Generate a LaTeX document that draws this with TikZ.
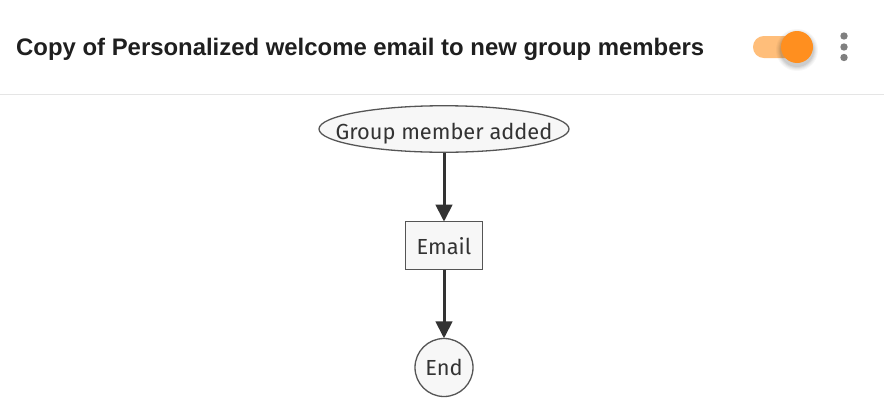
\documentclass[tikz,border=0pt]{standalone}
\usepackage{fontspec}
\setmainfont{Fira Sans}
\newfontfamily\titlefont[BoldFont={Liberation Sans Bold}]{Liberation Sans}
\usetikzlibrary{shapes.geometric,arrows.meta}
\definecolor{ink}{HTML}{333333}
\definecolor{edgeg}{HTML}{555555}
\definecolor{fillg}{HTML}{F7F7F7}
\definecolor{orangeK}{HTML}{FF8F1F}
\definecolor{orangeT}{HTML}{FFBE7A}
\definecolor{dotg}{HTML}{808080}
\newcommand{\lowered}[2]{\makebox[0pt]{\smash{\raisebox{#1}{#2}}}}
\tikzset{
 flownode/.style={draw=edgeg,fill=fillg,line width=1.3pt,inner sep=0pt,font=\fontsize{21.8}{24}\selectfont,text=ink},
 flowarrow/.style={draw=ink,line width=3pt,-{Triangle[length=17pt,width=16.5pt]},shorten >=-0.5pt}
}
\begin{document}
\begin{tikzpicture}[x=1pt,y=-1pt]
\useasboundingbox (0,0) rectangle (884,402);
\fill[white] (0,0) rectangle (884,402);
\draw[color=black!10,line width=0.8pt] (0,94.5) -- (884,94.5);
\node[anchor=west,inner sep=0pt,font=\titlefont\bfseries\fontsize{23.9}{26}\selectfont,text=black!88] (title) at (16,49) {Copy of Personalized welcome email to new group members};
\fill[orangeT,rounded corners=10.9pt] (753,36) rectangle (806,58);
\foreach \r/\o in {21/.03,20/.03,19/.04,18/.05,17/.06}{\fill[black,opacity=\o] (797,50) circle (\r);}
\fill[orangeK] (797,47) circle (16);
\fill[dotg] (844,36) circle (3.7) (844,47) circle (3.7) (844,57.5) circle (3.7);
\node[flownode,ellipse,minimum width=250pt,minimum height=46.5pt] (start) at (444,129) {\lowered{-10pt}{Group member added}};
\node[flownode,rectangle,minimum width=76.5pt,minimum height=47.5pt] (email) at (444,245.5) {\lowered{-9pt}{Email}};
\node[flownode,circle,minimum size=58pt] (end) at (444,367.5) {\lowered{-8pt}{End}};
\draw[flowarrow] (start) -- (email);
\draw[flowarrow] (email) -- (end);
\end{tikzpicture}
\end{document}
